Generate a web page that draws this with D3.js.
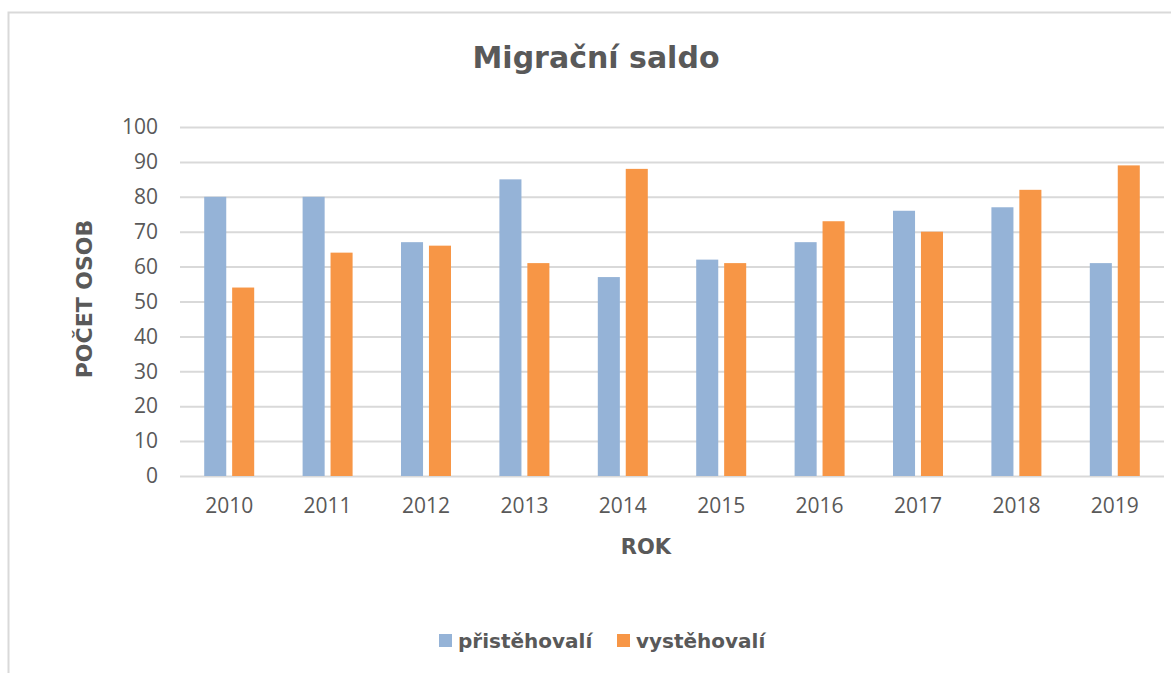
<!DOCTYPE html>
<html>
<head>
<meta charset="utf-8">
<script src="https://cdn.jsdelivr.net/npm/d3@7"></script>
<style>
  body { margin: 0; background: #fff; }
  svg { display: block; }
</style>
</head>
<body>
<div id="chart"></div>
<script>
var years = ["2010", "2011", "2012", "2013", "2014", "2015", "2016", "2017", "2018", "2019"];
var pristehovali = [80, 80, 67, 85, 57, 62, 67, 76, 77, 61];
var vystehovali = [54, 64, 66, 61, 88, 61, 73, 70, 82, 89];
var seriesNames = ["přistěhovalí", "vystěhovalí"];
var colors = ["#95b3d7", "#f79646"];
var yTicks = [0, 10, 20, 30, 40, 50, 60, 70, 80, 90, 100];

var width = 1171, height = 673;
var margin = {top: 127, right: 7, bottom: 197, left: 180};
var w = width - margin.left - margin.right;
var h = height - margin.top - margin.bottom;

var svg = d3.select("#chart")
  .append("svg")
    .attr("width", width)
    .attr("height", height);

// chart frame
svg.append("rect")
  .attr("x", 8.5).attr("y", 12.5)
  .attr("width", 1180).attr("height", 700)
  .attr("fill", "none")
  .attr("stroke", "#d9d9d9")
  .attr("stroke-width", 2);

var g = svg.append("g")
  .attr("transform", "translate(" + margin.left + "," + margin.top + ")");

var x = d3.scaleBand().domain(years).range([0, w]);
var y = d3.scaleLinear().domain([0, 100]).range([h, 0]);

var yAxis = g.append("g")
  .call(d3.axisLeft(y).tickValues(yTicks).tickSize(-w).tickPadding(22));
yAxis.select(".domain").remove();
yAxis.selectAll(".tick line").attr("stroke", "#d9d9d9").attr("stroke-width", 2);
yAxis.selectAll(".tick text")
  .attr("fill", "#595959")
  .style("font-family", "'Open Sans', sans-serif")
  .style("font-size", "21px");

var xAxis = g.append("g")
  .attr("transform", "translate(0," + h + ")")
  .call(d3.axisBottom(x).tickSize(0).tickPadding(22));
xAxis.select(".domain").remove();
xAxis.selectAll(".tick text")
  .attr("fill", "#595959")
  .style("font-family", "'Open Sans', sans-serif")
  .style("font-size", "21px");

var barW = x.bandwidth() * 0.224;
var gap = x.bandwidth() * 0.06;
var data = years.map(function (d, i) { return {year: d, vals: [pristehovali[i], vystehovali[i]]}; });

var groups = g.selectAll(".grp")
  .data(data)
  .enter()
    .append("g")
      .attr("transform", function (d) { return "translate(" + (x(d.year) + x.bandwidth() / 2) + ",0)"; });

groups.selectAll("rect")
  .data(function (d) { return d.vals; })
  .enter()
    .append("rect")
      .attr("x", function (d, i) { return i == 0 ? -gap / 2 - barW : gap / 2; })
      .attr("y", function (d) { return y(d); })
      .attr("width", barW)
      .attr("height", function (d) { return h - y(d); })
      .attr("fill", function (d, i) { return colors[i]; });

// titles
var boldFont = "Tahoma, 'DejaVu Sans', sans-serif";
svg.append("text")
  .attr("x", 596).attr("y", 68)
  .attr("text-anchor", "middle")
  .attr("fill", "#595959")
  .style("font-family", boldFont)
  .style("font-weight", "bold")
  .style("font-size", "30px")
  .text("Migrační saldo");

svg.append("text")
  .attr("transform", "translate(92," + 299 + ") rotate(-90)")
  .attr("text-anchor", "middle")
  .attr("fill", "#595959")
  .style("font-family", boldFont)
  .style("font-weight", "bold")
  .style("font-size", "22px")
  .text("POČET OSOB");

svg.append("text")
  .attr("x", margin.left + w / 2 - 26).attr("y", 554)
  .attr("text-anchor", "middle")
  .attr("fill", "#595959")
  .style("font-family", boldFont)
  .style("font-weight", "bold")
  .style("font-size", "21px")
  .text("ROK");

// legend
var legendX = [439, 617];
var legend = svg.selectAll(".leg")
  .data(seriesNames)
  .enter()
    .append("g")
      .attr("transform", function (d, i) { return "translate(" + legendX[i] + ",634)"; });
legend.append("rect")
  .attr("width", 13).attr("height", 13)
  .attr("fill", function (d, i) { return colors[i]; });
legend.append("text")
  .attr("x", 19).attr("y", 14)
  .attr("fill", "#595959")
  .style("font-family", boldFont)
  .style("font-weight", "bold")
  .style("font-size", "20px")
  .text(function (d) { return d; });
</script>
</body>
</html>
